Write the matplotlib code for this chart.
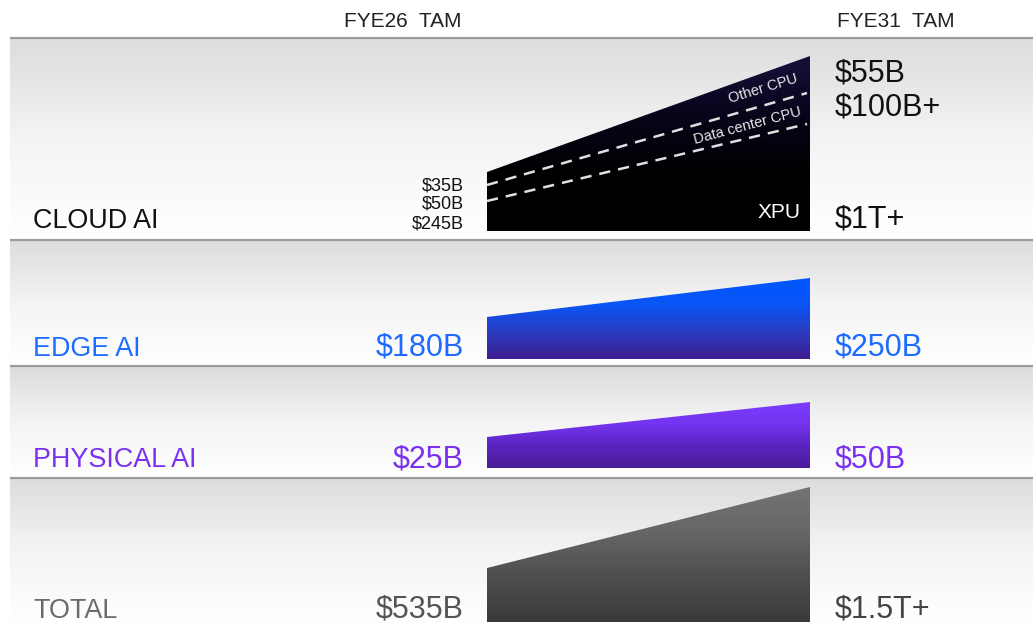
import numpy as np
import matplotlib
matplotlib.use("Agg")
import matplotlib.pyplot as plt
from matplotlib.patches import Polygon
from matplotlib.colors import LinearSegmentedColormap

plt.rcParams['font.family'] = ['Liberation Sans', 'DejaVu Sans']

# ---------------- data ----------------
segments = ["CLOUD AI", "EDGE AI", "PHYSICAL AI", "TOTAL"]
fye26_labels = ["", "$180B", "$25B", "$535B"]
fye31_labels = ["$1T+", "$250B", "$50B", "$1.5T+"]
cloud_fye26_breakdown = ["$35B", "$50B", "$245B"]
cloud_fye31_breakdown = ["$55B", "$100B+"]
# visual heights of the wedge shapes (left = FYE26, right = FYE31)
shape_start = [59, 42, 31, 54]
shape_end = [175, 81, 66, 135]
# cloud sub-divisions (XPU top / data center CPU top)
xpu_line = [30, 108]
dc_cpu_line = [46, 139]
header_labels = ["FYE26  TAM", "FYE31  TAM"]

# ---------------- layout ----------------
W, H = 1033, 623
fig = plt.figure(figsize=(W / 100, H / 100), dpi=100)
ax = fig.add_axes([0, 0, 1, 1])
ax.set_xlim(0, W)
ax.set_ylim(H, 0)
ax.axis('off')

band_top = [38, 240, 366, 478]
band_bot = [239, 365, 477, 623]
shape_base = [231, 359, 468, 622]
x_left, x_right = 487, 810
label_base = [228, 356, 467, 618]

bg_cmap = LinearSegmentedColormap.from_list("bg", ["#dcdcdc", "#f4f4f4", "#ffffff"])
grad = np.linspace(0, 1, 256).reshape(-1, 1)
for t, b in zip(band_top, band_bot):
    ax.imshow(grad, cmap=bg_cmap, aspect='auto', origin='upper',
              extent=(10, W, b, t), zorder=0, interpolation='bilinear')
    ax.plot([10, W], [t, t], color="#9c9c9c", lw=1.6, zorder=1,
            solid_capstyle='butt')

shape_cmaps = [
    ["#16113c", "#07051a", "#000000", "#000000"],
    ["#0057ff", "#0a55f6", "#2a3bc0", "#3f1d92"],
    ["#7a3cff", "#7434f0", "#5a24c0", "#4a1c98"],
    ["#747474", "#666666", "#4e4e4e", "#3a3a3a"],
]
for i in range(4):
    base = shape_base[i]
    ytl = base - shape_start[i]
    ytr = base - shape_end[i]
    poly = Polygon([(x_left, base), (x_left, ytl), (x_right, ytr), (x_right, base)],
                   closed=True, facecolor='none', edgecolor='none')
    ax.add_patch(poly)
    cm = LinearSegmentedColormap.from_list(f"s{i}", shape_cmaps[i])
    im = ax.imshow(grad, cmap=cm, aspect='auto', origin='upper',
                   extent=(x_left, x_right, base, ytr), zorder=2,
                   interpolation='bilinear')
    im.set_clip_path(poly)

# dashed dividers in cloud shape
cb = shape_base[0]
for line in (xpu_line, dc_cpu_line):
    ax.plot([x_left, x_right - 3], [cb - line[0], cb - line[1] + 1], color="#e0e0e0",
            lw=1.8, linestyle=(0, (4.5, 3.2)), zorder=3)

ax.text(763, 89, "Other CPU", color="#e8e8e8", fontsize=10.5, rotation=17,
        ha='center', va='center', zorder=4)
ax.text(748, 126, "Data center CPU", color="#e8e8e8", fontsize=10.5, rotation=15,
        ha='center', va='center', zorder=4)
ax.text(801, 218, "XPU", color="white", fontsize=15, ha='right', va='baseline', zorder=4)

# headers
ax.text(403, 27, header_labels[0], color="#222222", fontsize=15, ha='center', va='baseline')
ax.text(896, 27, header_labels[1], color="#222222", fontsize=15, ha='center', va='baseline')

seg_colors = ["#111111", "#1e6bff", "#7a30f0", "#6b6b6b"]
left_val_colors = ["#111111", "#1e6bff", "#7a30f0", "#555555"]
right_val_colors = ["#111111", "#1e6bff", "#7a30f0", "#444444"]
for i in range(4):
    ax.text(33, label_base[i], segments[i], color=seg_colors[i], fontsize=19.4,
            ha='left', va='baseline')
    if fye26_labels[i]:
        ax.text(464, label_base[i], fye26_labels[i], color=left_val_colors[i],
                fontsize=22, ha='right', va='baseline')
    ax.text(835, label_base[i], fye31_labels[i], color=right_val_colors[i],
            fontsize=22, ha='left', va='baseline')

# cloud breakdowns
for lbl, y in zip(cloud_fye26_breakdown, [190, 208, 228]):
    ax.text(464, y, lbl, color="#111111", fontsize=13, ha='right', va='baseline')
for lbl, y in zip(cloud_fye31_breakdown, [81, 116]):
    ax.text(835, y, lbl, color="#111111", fontsize=22, ha='left', va='baseline')

fig.savefig("out.png", dpi=100)
